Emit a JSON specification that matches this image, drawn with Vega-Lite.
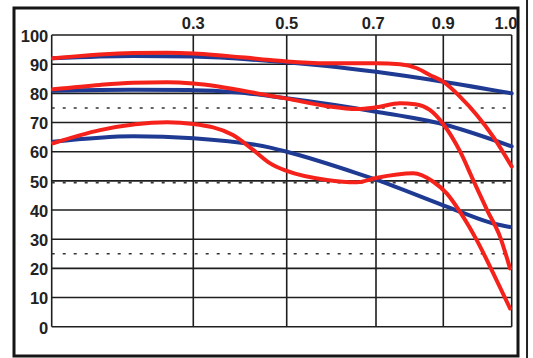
{
  "$schema": "https://vega.github.io/schema/vega-lite/v6.json",
  "autosize": "none",
  "width": 504,
  "height": 348,
  "padding": {"left": 14, "top": 8, "right": 15, "bottom": 2},
  "background": "#ffffff",
  "view": {"stroke": "#151515", "strokeWidth": 3},
  "datasets": {
    "hgrid": [
      {"v": 0}, {"v": 10}, {"v": 20}, {"v": 30}, {"v": 40}, {"v": 50},
      {"v": 60}, {"v": 70}, {"v": 80}, {"v": 90}, {"v": 100}
    ],
    "vgrid": [
      {"h": 0}, {"h": 0.3078}, {"h": 0.5109}, {"h": 0.705}, {"h": 0.8513}, {"h": 1.0}
    ],
    "toplabels": [
      {"h": 0.3078, "label": "0.3"},
      {"h": 0.5109, "label": "0.5"},
      {"h": 0.699, "label": "0.7"},
      {"h": 0.8513, "label": "0.9"},
      {"h": 0.9876, "label": "1.0"}
    ],
    "dotted": [{"v": 75}, {"v": 49.4}, {"v": 25}],
    "curves": [
      {"series": "B1", "kind": "blue", "h": 0.003, "mtf": 92.0},
      {"series": "B1", "kind": "blue", "h": 0.177, "mtf": 92.8},
      {"series": "B1", "kind": "blue", "h": 0.308, "mtf": 92.6},
      {"series": "B1", "kind": "blue", "h": 0.475, "mtf": 91.1},
      {"series": "B1", "kind": "blue", "h": 0.598, "mtf": 89.4},
      {"series": "B1", "kind": "blue", "h": 0.705, "mtf": 87.4},
      {"series": "B1", "kind": "blue", "h": 0.851, "mtf": 84.0},
      {"series": "B1", "kind": "blue", "h": 1.0, "mtf": 80.0},

      {"series": "B2", "kind": "blue", "h": 0.003, "mtf": 80.9},
      {"series": "B2", "kind": "blue", "h": 0.177, "mtf": 81.2},
      {"series": "B2", "kind": "blue", "h": 0.308, "mtf": 81.1},
      {"series": "B2", "kind": "blue", "h": 0.40, "mtf": 80.4},
      {"series": "B2", "kind": "blue", "h": 0.511, "mtf": 78.3},
      {"series": "B2", "kind": "blue", "h": 0.705, "mtf": 73.7},
      {"series": "B2", "kind": "blue", "h": 0.851, "mtf": 69.4},
      {"series": "B2", "kind": "blue", "h": 1.0, "mtf": 61.8},

      {"series": "B3", "kind": "blue", "h": 0.003, "mtf": 63.4},
      {"series": "B3", "kind": "blue", "h": 0.177, "mtf": 65.3},
      {"series": "B3", "kind": "blue", "h": 0.308, "mtf": 64.6},
      {"series": "B3", "kind": "blue", "h": 0.475, "mtf": 61.4},
      {"series": "B3", "kind": "blue", "h": 0.511, "mtf": 60.0},
      {"series": "B3", "kind": "blue", "h": 0.664, "mtf": 52.6},
      {"series": "B3", "kind": "blue", "h": 0.705, "mtf": 50.4},
      {"series": "B3", "kind": "blue", "h": 0.851, "mtf": 41.6},
      {"series": "B3", "kind": "blue", "h": 0.888, "mtf": 39.4},
      {"series": "B3", "kind": "blue", "h": 0.960, "mtf": 35.4},
      {"series": "B3", "kind": "blue", "h": 0.996, "mtf": 34.2},

      {"series": "R1", "kind": "red", "h": 0.003, "mtf": 92.0},
      {"series": "R1", "kind": "red", "h": 0.177, "mtf": 93.8},
      {"series": "R1", "kind": "red", "h": 0.251, "mtf": 93.9},
      {"series": "R1", "kind": "red", "h": 0.308, "mtf": 93.7},
      {"series": "R1", "kind": "red", "h": 0.475, "mtf": 91.4},
      {"series": "R1", "kind": "red", "h": 0.511, "mtf": 90.9},
      {"series": "R1", "kind": "red", "h": 0.600, "mtf": 90.3},
      {"series": "R1", "kind": "red", "h": 0.705, "mtf": 90.3},
      {"series": "R1", "kind": "red", "h": 0.757, "mtf": 90.0},
      {"series": "R1", "kind": "red", "h": 0.794, "mtf": 88.6},
      {"series": "R1", "kind": "red", "h": 0.822, "mtf": 86.3},
      {"series": "R1", "kind": "red", "h": 0.851, "mtf": 84.0},
      {"series": "R1", "kind": "red", "h": 0.888, "mtf": 78.8},
      {"series": "R1", "kind": "red", "h": 0.924, "mtf": 72.6},
      {"series": "R1", "kind": "red", "h": 0.960, "mtf": 65.1},
      {"series": "R1", "kind": "red", "h": 1.0, "mtf": 54.9},

      {"series": "R2", "kind": "red", "h": 0.003, "mtf": 81.4},
      {"series": "R2", "kind": "red", "h": 0.105, "mtf": 82.9},
      {"series": "R2", "kind": "red", "h": 0.177, "mtf": 83.6},
      {"series": "R2", "kind": "red", "h": 0.251, "mtf": 83.8},
      {"series": "R2", "kind": "red", "h": 0.308, "mtf": 83.4},
      {"series": "R2", "kind": "red", "h": 0.475, "mtf": 79.2},
      {"series": "R2", "kind": "red", "h": 0.511, "mtf": 78.2},
      {"series": "R2", "kind": "red", "h": 0.598, "mtf": 75.6},
      {"series": "R2", "kind": "red", "h": 0.664, "mtf": 74.6},
      {"series": "R2", "kind": "red", "h": 0.705, "mtf": 75.2},
      {"series": "R2", "kind": "red", "h": 0.757, "mtf": 76.6},
      {"series": "R2", "kind": "red", "h": 0.790, "mtf": 76.3},
      {"series": "R2", "kind": "red", "h": 0.822, "mtf": 74.3},
      {"series": "R2", "kind": "red", "h": 0.851, "mtf": 69.5},
      {"series": "R2", "kind": "red", "h": 0.888, "mtf": 60.0},
      {"series": "R2", "kind": "red", "h": 0.9165, "mtf": 50.2},
      {"series": "R2", "kind": "red", "h": 0.9465, "mtf": 40.0},
      {"series": "R2", "kind": "red", "h": 0.9746, "mtf": 30.9},
      {"series": "R2", "kind": "red", "h": 0.9963, "mtf": 20.0},

      {"series": "R3", "kind": "red", "h": 0.003, "mtf": 62.9},
      {"series": "R3", "kind": "red", "h": 0.105, "mtf": 67.4},
      {"series": "R3", "kind": "red", "h": 0.251, "mtf": 70.1},
      {"series": "R3", "kind": "red", "h": 0.308, "mtf": 69.5},
      {"series": "R3", "kind": "red", "h": 0.394, "mtf": 65.7},
      {"series": "R3", "kind": "red", "h": 0.438, "mtf": 60.6},
      {"series": "R3", "kind": "red", "h": 0.475, "mtf": 56.0},
      {"series": "R3", "kind": "red", "h": 0.511, "mtf": 53.4},
      {"series": "R3", "kind": "red", "h": 0.598, "mtf": 50.3},
      {"series": "R3", "kind": "red", "h": 0.664, "mtf": 49.5},
      {"series": "R3", "kind": "red", "h": 0.705, "mtf": 51.0},
      {"series": "R3", "kind": "red", "h": 0.786, "mtf": 52.6},
      {"series": "R3", "kind": "red", "h": 0.8296, "mtf": 49.7},
      {"series": "R3", "kind": "red", "h": 0.8587, "mtf": 45.7},
      {"series": "R3", "kind": "red", "h": 0.8876, "mtf": 39.4},
      {"series": "R3", "kind": "red", "h": 0.924, "mtf": 29.7},
      {"series": "R3", "kind": "red", "h": 0.960, "mtf": 18.3},
      {"series": "R3", "kind": "red", "h": 0.9963, "mtf": 6.3}
    ],
    "frame": [{"h": 1.0333, "top": 112.0, "bottom": -10.7}]
  },
  "layer": [
    {
      "data": {"name": "hgrid"},
      "mark": {"type": "rule", "color": "#1e1e1e", "strokeWidth": 1.6},
      "encoding": {
        "y": {
          "field": "v", "type": "quantitative",
          "scale": {"domain": [-10.04, 109.26], "nice": false, "zero": false},
          "axis": null
        },
        "x": {
          "datum": 0, "type": "quantitative",
          "scale": {"domain": [-0.08196, 1.0137], "nice": false, "zero": false},
          "axis": null
        },
        "x2": {"datum": 1}
      }
    },
    {
      "data": {"name": "vgrid"},
      "mark": {"type": "rule", "color": "#1e1e1e", "strokeWidth": 1.6},
      "encoding": {
        "x": {"field": "h", "type": "quantitative", "axis": null},
        "y": {"datum": 0, "type": "quantitative", "axis": null},
        "y2": {"datum": 100}
      }
    },
    {
      "data": {"name": "dotted"},
      "mark": {"type": "rule", "color": "#333333", "strokeWidth": 1.6, "strokeDash": [3, 8]},
      "encoding": {
        "y": {"field": "v", "type": "quantitative", "axis": null},
        "x": {"datum": 0, "type": "quantitative", "axis": null},
        "x2": {"datum": 1}
      }
    },
    {
      "data": {"name": "frame"},
      "mark": {"type": "rule", "color": "#222222", "strokeWidth": 2},
      "encoding": {
        "x": {"field": "h", "type": "quantitative", "axis": null},
        "y": {"field": "top", "type": "quantitative", "axis": null},
        "y2": {"field": "bottom"}
      }
    },
    {
      "data": {"name": "hgrid"},
      "mark": {"type": "text", "align": "right", "baseline": "alphabetic", "dy": 6.8,
               "font": "Liberation Sans", "fontWeight": "bold", "fontSize": 16.5, "color": "#222222"},
      "encoding": {
        "y": {"field": "v", "type": "quantitative", "axis": null},
        "x": {"datum": -0.0074, "type": "quantitative", "axis": null},
        "text": {"field": "v", "type": "quantitative"}
      }
    },
    {
      "data": {"name": "toplabels"},
      "mark": {"type": "text", "align": "center", "baseline": "alphabetic",
               "font": "Liberation Sans", "fontWeight": "bold", "fontSize": 16.5, "color": "#222222"},
      "encoding": {
        "x": {"field": "h", "type": "quantitative", "axis": null},
        "y": {"datum": 101.95, "type": "quantitative", "axis": null},
        "text": {"field": "label", "type": "nominal"}
      }
    },
    {
      "data": {"name": "curves"},
      "transform": [{"filter": "datum.kind === 'blue'"}],
      "mark": {"type": "line", "interpolate": "monotone", "strokeWidth": 4, "strokeCap": "round"},
      "encoding": {
        "x": {"field": "h", "type": "quantitative", "axis": null},
        "y": {"field": "mtf", "type": "quantitative", "axis": null},
        "detail": {"field": "series"},
        "color": {"field": "kind", "type": "nominal", "scale": {"domain": ["blue", "red"], "range": ["#1f3a93", "#f5221b"]}, "legend": null}
      }
    },
    {
      "data": {"name": "curves"},
      "transform": [{"filter": "datum.kind === 'red'"}],
      "mark": {"type": "line", "interpolate": "monotone", "strokeWidth": 4, "strokeCap": "round"},
      "encoding": {
        "x": {"field": "h", "type": "quantitative", "axis": null},
        "y": {"field": "mtf", "type": "quantitative", "axis": null},
        "detail": {"field": "series"},
        "color": {"field": "kind", "type": "nominal", "legend": null}
      }
    }
  ]
}
